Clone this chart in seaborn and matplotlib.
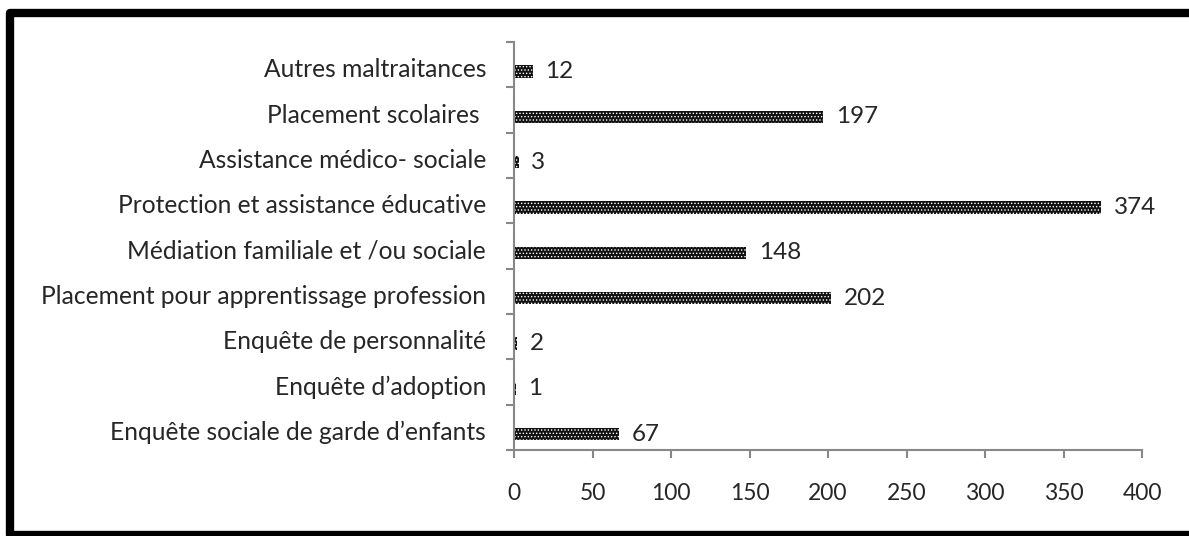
import numpy as np
import pandas as pd
import seaborn as sns
import matplotlib.pyplot as plt
from matplotlib.lines import Line2D

# categories (bottom to top as in the chart)
categories = [
    "Enquête sociale de garde d’enfants",
    "Enquête d’adoption",
    "Enquête de personnalité",
    "Placement pour apprentissage profession",
    "Médiation familiale et /ou sociale",
    "Protection et assistance éducative",
    "Assistance médico- sociale",
    "Placement scolaires ",
    "Autres maltraitances",
]
values = [67, 1, 2, 202, 148, 374, 3, 197, 12]
x_ticks = [0, 50, 100, 150, 200, 250, 300, 350, 400]

sns.set_style("white")
plt.rcParams['font.family'] = ['Lato', 'DejaVu Sans']
plt.rcParams['hatch.linewidth'] = 0.6

# seaborn draws top-to-bottom, so reverse order
df = pd.DataFrame({"cat": categories[::-1], "val": values[::-1]})
n = len(categories)
off = 0.15  # bars sit a little below the band centre, like the original

fig = plt.figure(figsize=(11.89, 5.36), dpi=100)
ax = fig.add_axes([0.4323, 0.1604, 0.5282, 0.7612])

sns.barplot(data=df, x="val", y="cat", orient="h", width=0.27,
            color="#111111", ax=ax)
for p in ax.patches:
    p.set_facecolor("#111111")
    p.set_hatch(".....")
    p.set_edgecolor("white")
    p.set_linewidth(0)

for i, v in enumerate(df["val"]):
    ax.text(v + 8, i, str(v), va="center", ha="left", fontsize=17.5)

ax.set_xlim(0, 400)
ax.set_ylim(n - 0.5 - off, -0.5 - off)
ax.set_xticks(x_ticks)
ax.set_xticklabels([str(t) for t in x_ticks], fontsize=16.5)
ax.set_xlabel("")
ax.set_ylabel("")

# category labels near centres, ticks at band boundaries
ax.set_yticks(np.arange(n) - 0.08)
ax.set_yticklabels(df["cat"], fontsize=17.7)
ax.set_yticks(np.arange(n + 1) - 0.5 - off, minor=True)
ax.tick_params(axis="y", which="major", left=True, length=0, pad=20)
ax.tick_params(axis="y", which="minor", left=True, length=6, color="#888888",
               direction="out", width=1.5)
ax.tick_params(axis="x", bottom=True, length=6, color="#888888",
               direction="out", width=1.5, pad=18)

for s in ["top", "right"]:
    ax.spines[s].set_visible(False)
for s in ["left", "bottom"]:
    ax.spines[s].set_color("#888888")
    ax.spines[s].set_linewidth(1.5)

# outer thick frame (open to the right, like a cropped screenshot)
xl, yt, yb = 10 / 1189, 1 - 13 / 536, 1 / 536
frame = Line2D([1.05, xl, xl, 1.05], [yt, yt, yb, yb], transform=fig.transFigure,
               color="black", linewidth=6, solid_joinstyle="round")
fig.add_artist(frame)

fig.savefig("out.png", dpi=100)
